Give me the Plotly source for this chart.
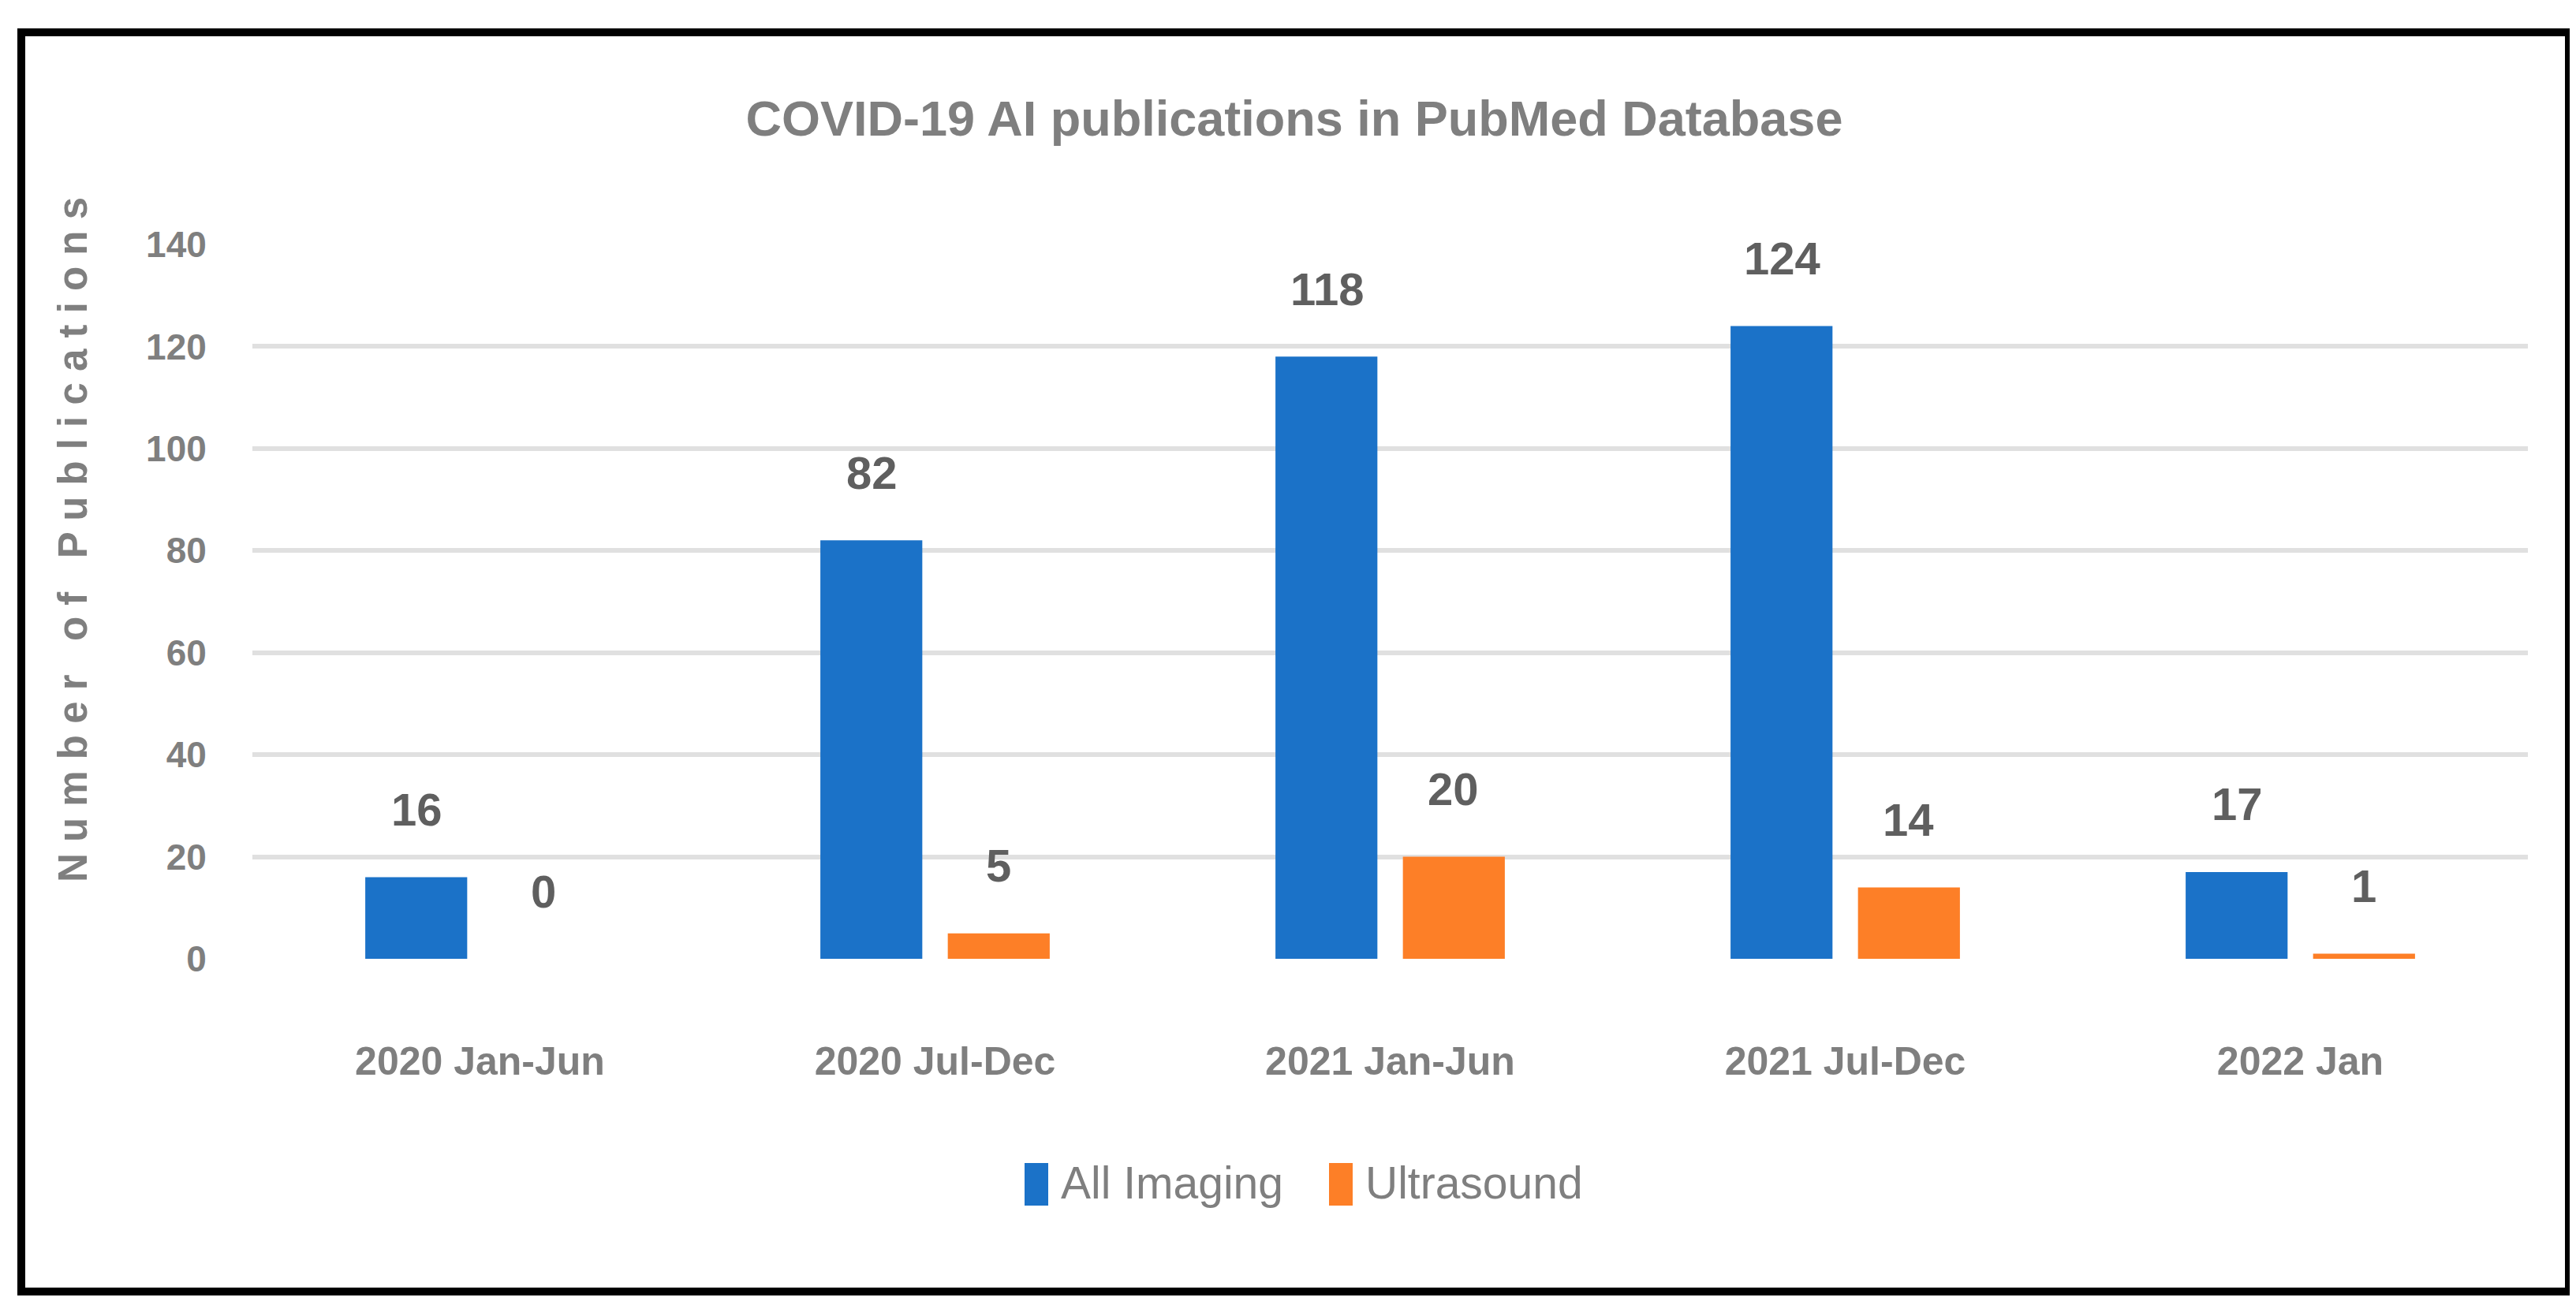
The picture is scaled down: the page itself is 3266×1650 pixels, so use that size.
import plotly.graph_objects as go

categories = ["2020 Jan-Jun", "2020 Jul-Dec", "2021 Jan-Jun", "2021 Jul-Dec", "2022 Jan"]
all_imaging = [16, 82, 118, 124, 17]
ultrasound = [0, 5, 20, 14, 1]
series_names = ["All Imaging", "Ultrasound"]
y_ticks = [0, 20, 40, 60, 80, 100, 120, 140]
title_text = "COVID-19 AI publications in PubMed Database"
y_title = "Number of Publications"

W, H = 3266, 1650
ML, MR, MT, MB = 312, 69, 302, 442
PW = W - ML - MR
PH = H - MT - MB


def px(xp):
    return (xp - ML) / PW


def py(yp):
    return (MT + PH - yp) / PH


FONT = "Liberation Sans, Arial, sans-serif"
GRAY = "#7f7f7f"
DARK = "#5f5f5f"
BLUE = "#1b72c8"
ORANGE = "#fd7f27"
colors = [BLUE, ORANGE]

fig = go.Figure()
fig.add_trace(go.Bar(x=categories, y=all_imaging, name=series_names[0],
                     marker=dict(color=BLUE, line=dict(width=0))))
fig.add_trace(go.Bar(x=categories, y=ultrasound, name=series_names[1],
                     marker=dict(color=ORANGE, line=dict(width=0))))

shift = 80
for vals, xs in ((all_imaging, -shift), (ultrasound, shift)):
    for c, v in zip(categories, vals):
        fig.add_annotation(x=c, y=v, xref="x", yref="y", text=str(v), showarrow=False,
                           xshift=xs, yshift=86, yanchor="middle",
                           font=dict(family=FONT, size=58, color=DARK, weight="bold"))

# y-axis title, letter-spaced
spaced = " ".join(list(y_title))
fig.add_annotation(text=spaced, xref="paper", yref="paper",
                   x=px(84), y=py(677), xanchor="center", yanchor="middle",
                   textangle=-90, showarrow=False,
                   font=dict(family=FONT, size=51, color=GRAY, weight="bold"))

# legend keys (large squares) and labels
legend_x = [1291, 1677]
for name, col, lx in zip(series_names, colors, legend_x):
    fig.add_shape(type="rect", xref="paper", yref="paper",
                  x0=px(lx), x1=px(lx + 30), y0=py(1521), y1=py(1467),
                  line=dict(width=0), fillcolor=col)
    fig.add_annotation(text=name, xref="paper", yref="paper", x=px(lx + 44), y=py(1492),
                       xanchor="left", yanchor="middle", showarrow=False,
                       font=dict(family=FONT, size=57, color=GRAY))

# outer frame
fx0, fx1, fy0, fy1 = 19, 3249, 33, 1630
fig.add_shape(type="rect", xref="paper", yref="paper",
              x0=px(fx0), x1=px(fx1), y0=py(fy1), y1=py(fy0),
              line=dict(color="black", width=10), fillcolor="rgba(0,0,0,0)", layer="above")

fig.update_layout(
    width=W, height=H,
    margin=dict(l=ML, r=MR, t=MT, b=MB),
    paper_bgcolor="white", plot_bgcolor="white",
    barmode="group", bargap=0.44, bargroupgap=0.2,
    title=dict(text=title_text, x=0.5, xref="container", xanchor="center",
               y=1 - 142 / H, yref="container", yanchor="middle",
               font=dict(family=FONT, size=63, color=GRAY, weight="bold")),
    showlegend=False,
)
fig.update_xaxes(showgrid=False, showline=False, zeroline=False,
                 ticks="outside", ticklen=86, tickcolor="rgba(0,0,0,0)",
                 tickfont=dict(family=FONT, size=50, color=GRAY, weight="bold"))
fig.update_yaxes(range=[0, 140], tickvals=y_ticks, showgrid=True, gridcolor="#e0e0e0",
                 gridwidth=6, zeroline=False, showline=False,
                 ticks="outside", ticklen=48, tickcolor="rgba(0,0,0,0)",
                 tickfont=dict(family=FONT, size=46, color=GRAY, weight="bold"))

fig.write_html("out.html")
